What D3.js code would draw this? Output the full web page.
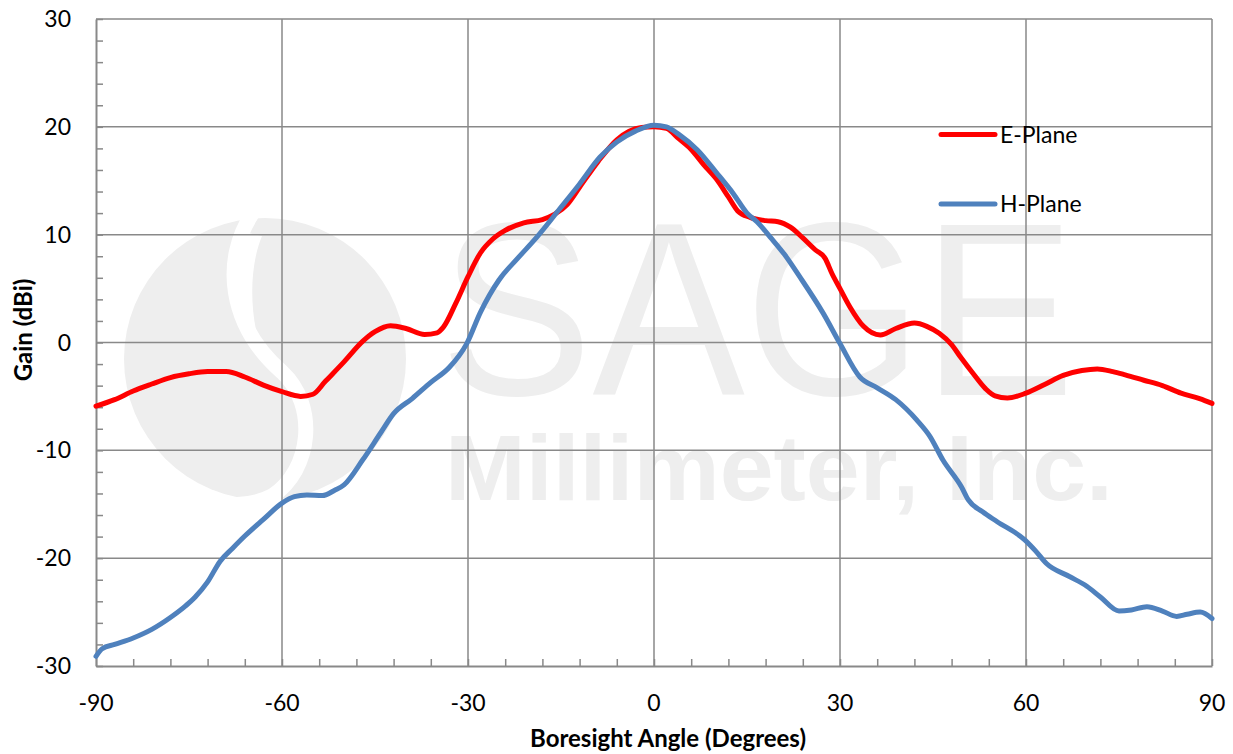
<!DOCTYPE html>
<html>
<head>
<meta charset="utf-8">
<script src="https://cdn.jsdelivr.net/npm/d3@7"></script>
<style>
  html, body { margin: 0; padding: 0; background: #ffffff; }
  svg { display: block; }
  text { font-family: Lato, "Open Sans", sans-serif; fill: #000; }
</style>
</head>
<body>
<svg id="chart" width="1233" height="754"></svg>
<script>
// Antenna radiation pattern: gain versus boresight angle
const ePlaneAngle = [-90,-87,-84,-81,-78,-75,-72,-69,-66,-63,-60,-57,-55,-53,-50,-47,-45,-42.5,-40,-37,-35,-34,-32,-30,-28,-26,-24,-21,-18,-16,-14,-12,-9,-6,-4,-2,0,2,4,6,8,10,12,13.5,15.5,18,20,22,24,26,27.6,28.7,30,31.6,33.8,36.5,39,42,44,46,48,49.5,51.5,53.5,55,57,60,63,66,69,71.5,74,76,79,82,85,88,90];
const ePlaneGain  = [-5.9,-5.3,-4.5,-3.85,-3.25,-2.9,-2.7,-2.7,-3.2,-3.95,-4.56,-5.0,-4.8,-3.6,-1.8,0.1,1.0,1.55,1.3,0.75,0.9,1.4,3.6,6.1,8.3,9.6,10.4,11.1,11.4,11.9,12.8,14.4,16.8,18.8,19.6,19.95,20.0,19.85,18.9,17.9,16.5,15.2,13.5,12.2,11.6,11.3,11.2,10.7,9.7,8.6,7.8,6.4,5.0,3.3,1.5,0.7,1.3,1.8,1.5,0.85,-0.2,-1.4,-2.9,-4.3,-4.95,-5.15,-4.7,-3.9,-3.05,-2.6,-2.45,-2.7,-3.0,-3.5,-4.0,-4.7,-5.2,-5.65];

const hPlaneAngle = [-90,-89,-87,-84,-81,-78,-75.5,-74,-72,-70,-68,-66,-63,-60,-58,-56,-53.5,-51.5,-50,-47,-44,-42,-39,-36,-33,-30.2,-28,-25,-22,-19,-15.2,-12,-8.7,-6,-3,0,2,4,7,10,12.8,15,16.6,19,21,23.5,27.3,30,33.2,36,39,42.4,44.5,46.6,49.6,50.7,53,55.3,59.8,61.5,63.3,67,69.8,72,75,77,79.5,82,84.3,86,88.1,90];
const hPlaneGain  = [-29.1,-28.4,-28.0,-27.4,-26.6,-25.5,-24.4,-23.6,-22.2,-20.3,-19.1,-17.95,-16.4,-14.9,-14.3,-14.15,-14.2,-13.7,-13.2,-10.9,-8.3,-6.6,-5.2,-3.7,-2.3,-0.1,2.8,5.8,7.8,9.7,12.4,14.7,17.2,18.6,19.6,20.15,20.0,19.3,17.85,15.8,13.8,12.0,11.2,9.6,8.2,6.1,2.7,-0.1,-3.2,-4.2,-5.3,-7.2,-8.7,-10.9,-13.4,-14.6,-15.7,-16.6,-18.3,-19.3,-20.5,-21.7,-22.6,-23.6,-24.9,-24.8,-24.5,-24.9,-25.4,-25.2,-25.0,-25.6];

const xTicks = [-90,-60,-30,0,30,60,90];
const yTicks = [-30,-20,-10,0,10,20,30];
const seriesNames = ["E-Plane", "H-Plane"];
const seriesColors = ["#ff0000", "#4f81bd"];

const svg = d3.select("#chart");
const plotLeft = 96, plotRight = 1212, plotTop = 19, plotBottom = 666;

const x = d3.scaleLinear().domain([-90, 90]).range([plotLeft, plotRight]);
const y = d3.scaleLinear().domain([-30, 30]).range([plotBottom, plotTop]);

const gridColor = "#898989";
const wmColor = "#eeeeee";

// Company watermark behind the plot
const wm = svg.append("g");
wm.append("ellipse").attr("cx", 265).attr("cy", 359).attr("rx", 141).attr("ry", 141).attr("fill", wmColor);
wm.append("path")
  .attr("d", "M 252 214 C 222 260, 228 325, 282 372 C 318 405, 312 470, 272 496 C 245 510, 215 505, 190 496")
  .attr("fill", "none").attr("stroke", "#ffffff").attr("stroke-width", 15).attr("stroke-linecap", "round");
wm.append("path")
  .attr("d", "M 244 232 C 226 270, 236 320, 262 352 C 250 318, 248 270, 262 236 Z")
  .attr("fill", "#ffffff");
wm.append("text").attr("x", 440).attr("y", 395)
  .attr("textLength", 635).attr("lengthAdjust", "spacingAndGlyphs")
  .style("font-family", "'Liberation Sans', Arial, sans-serif")
  .style("font-size", "247px").style("fill", wmColor).text("SAGE");
wm.append("text").attr("x", 445).attr("y", 500)
  .attr("textLength", 668).attr("lengthAdjust", "spacingAndGlyphs")
  .style("font-family", "'Liberation Sans', Arial, sans-serif").style("font-weight", "bold")
  .style("font-size", "93px").style("fill", wmColor).text("Millimeter, Inc.");

// Grid lines
const grid = svg.append("g").attr("stroke", gridColor).attr("stroke-width", 1.5);
grid.selectAll("line.gx").data(xTicks.slice(1)).join("line")
  .attr("x1", d => x(d)).attr("x2", d => x(d)).attr("y1", plotTop).attr("y2", plotBottom);
grid.selectAll("line.gy").data(yTicks.slice(1)).join("line")
  .attr("x1", plotLeft).attr("x2", plotRight).attr("y1", d => y(d)).attr("y2", d => y(d));

// Axes with minor ticks drawn inward
const xAxis = d3.axisBottom(x).tickValues(d3.range(-90, 91, 6)).tickSize(-7).tickSizeOuter(0).tickFormat("");
const yAxis = d3.axisLeft(y).tickValues(d3.range(-30, 31, 2)).tickSize(-7).tickSizeOuter(0).tickFormat("");
const gx = svg.append("g").attr("transform", `translate(0,${plotBottom})`).call(xAxis);
const gy = svg.append("g").attr("transform", `translate(${plotLeft},0)`).call(yAxis);
[gx, gy].forEach(g => {
  g.select(".domain").attr("stroke", gridColor).attr("stroke-width", 2);
  g.selectAll(".tick line").attr("stroke", gridColor).attr("stroke-width", 1.5);
});

// Tick labels
svg.append("g").selectAll("text").data(xTicks).join("text")
  .attr("x", d => x(d)).attr("y", 711).attr("text-anchor", "middle")
  .style("font-size", "23px").text(d => d);
svg.append("g").selectAll("text").data(yTicks).join("text")
  .attr("x", 71).attr("y", d => y(d) + 8).attr("text-anchor", "end")
  .style("font-size", "23px").text(d => d);

// Axis titles
svg.append("text").attr("x", 668).attr("y", 747).attr("text-anchor", "middle")
  .style("font-size", "24px").style("font-weight", "bold").text("Boresight Angle (Degrees)");
svg.append("text").attr("transform", "translate(32,330) rotate(-90)").attr("text-anchor", "middle")
  .style("font-size", "24px").style("font-weight", "bold").text("Gain (dBi)");

// Series lines
const line = d3.line().x(d => x(d[0])).y(d => y(d[1])).curve(d3.curveMonotoneX);
const eData = d3.zip(ePlaneAngle, ePlaneGain);
const hData = d3.zip(hPlaneAngle, hPlaneGain);
[eData, hData].forEach((data, i) => {
  svg.append("path").datum(data).attr("d", line)
    .attr("fill", "none").attr("stroke", seriesColors[i]).attr("stroke-width", 5)
    .attr("stroke-linejoin", "round").attr("stroke-linecap", "round");
});

// Legend
const legendY = [134.5, 204];
const lg = svg.append("g");
seriesNames.forEach((name, i) => {
  lg.append("line").attr("x1", 941).attr("x2", 995).attr("y1", legendY[i]).attr("y2", legendY[i])
    .attr("stroke", seriesColors[i]).attr("stroke-width", 5).attr("stroke-linecap", "round");
  lg.append("text").attr("x", 1000).attr("y", legendY[i] + 8).style("font-size", "23px").text(name);
});
</script>
</body>
</html>
